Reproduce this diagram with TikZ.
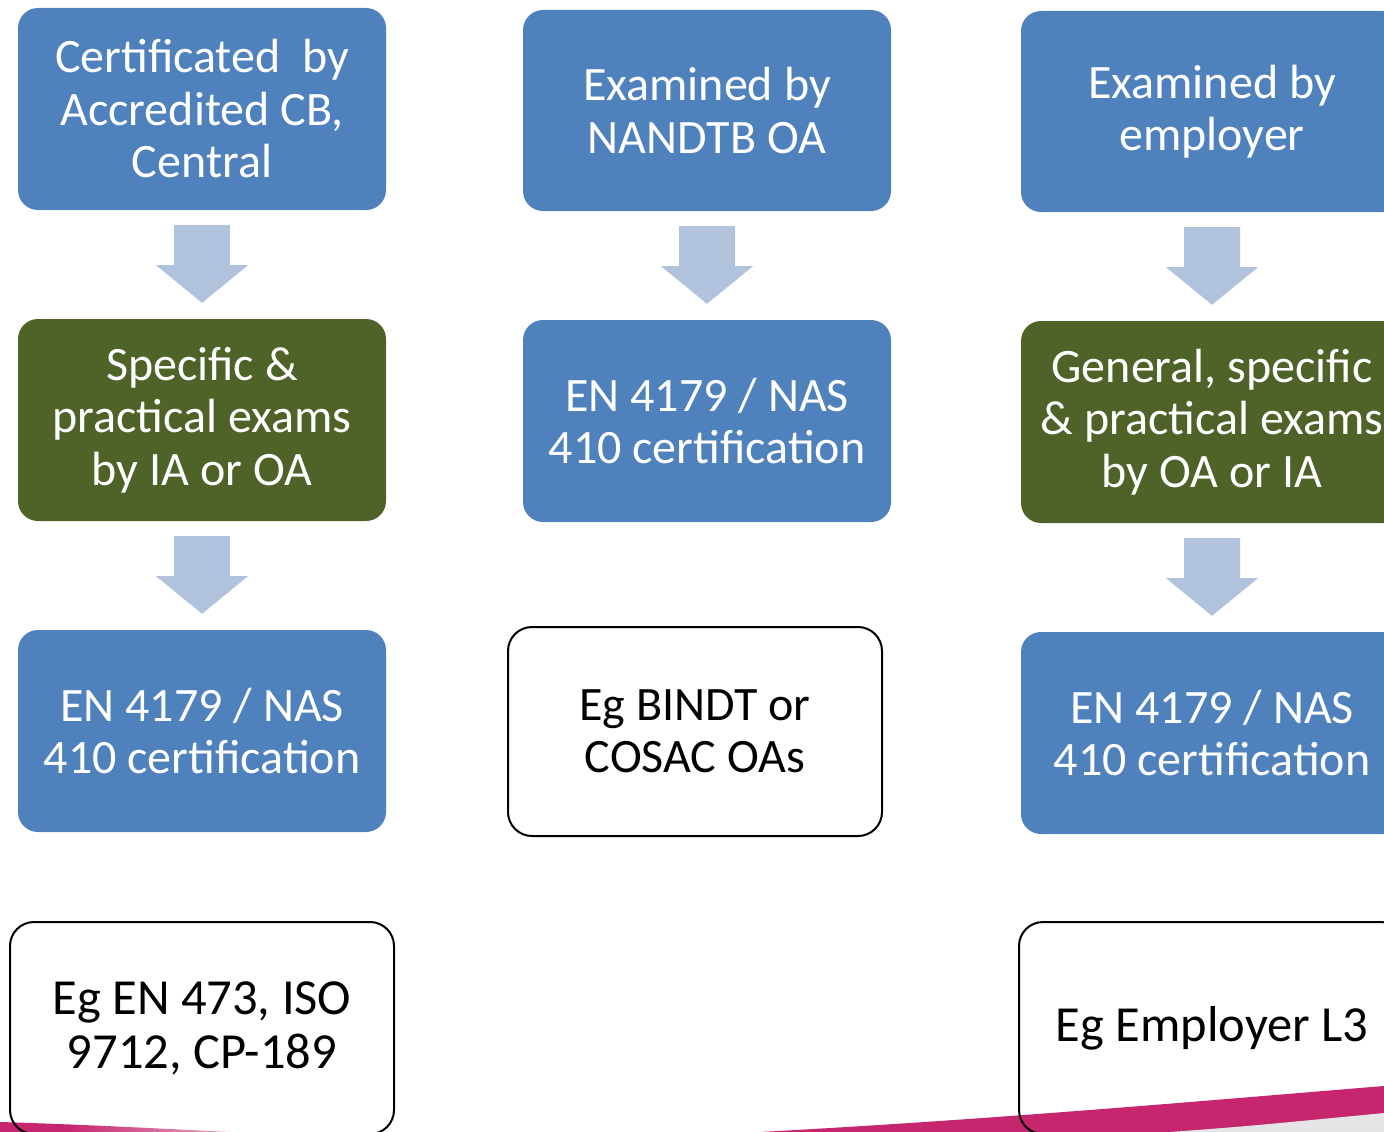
\documentclass[tikz,border=0pt]{standalone}
\usepackage{fontspec}
\setmainfont{Carlito}
\usetikzlibrary{calc}
\definecolor{boxblue}{HTML}{4F81BD}
\definecolor{boxgreen}{HTML}{4F6228}
\definecolor{arrowblue}{HTML}{B1C2DD}
\definecolor{swoosh}{HTML}{C6266E}
\definecolor{swooshgray}{HTML}{E5E5E7}
\pgfdeclarehorizontalshading{swooshfade}{100bp}{color(0bp)=(swoosh); color(40bp)=(swoosh); color(100bp)=(white)}
\begin{document}
\begin{tikzpicture}[x=1pt, y=-1pt,
    box/.style={rounded corners=20pt, align=center, inner sep=0pt,
        font=\fontsize{48}{52.5}\selectfont},
    bluebox/.style={box, fill=boxblue, text=white},
    greenbox/.style={box, fill=boxgreen, text=white},
    notebox/.style={box, draw=black, line width=2pt, rounded corners=24pt, text=black},
    bignote/.style={notebox, font=\fontsize{50.5}{54}\selectfont},
    arrowfill/.style={fill=arrowblue}]
        \clip (0, 0) rectangle (1384, 1132);
        \shade[shading=swooshfade] (0, 1122) .. controls (70, 1124) and (150, 1128) .. (230, 1132) -- (0, 1132) -- cycle;
        \fill[swoosh] (760, 1132) .. controls (1000, 1119) and (1200, 1101) .. (1384, 1086) -- (1384, 1132) -- cycle;
        \fill[swooshgray] (1170, 1132) .. controls (1250, 1126) .. (1384, 1113) -- (1384, 1132) -- cycle;
        \node[bluebox, minimum width=368pt, minimum height=202pt] (c1a) at (202, 109) {Certificated\ \ by\\Accredited CB,\\Central};
        \node[greenbox, minimum width=368pt, minimum height=202pt] (c1b) at (202, 420) {Specific \&\\practical exams\\by IA or OA};
        \node[bluebox, minimum width=368pt, minimum height=202pt] (c1c) at (202, 731) {EN 4179 / NAS\\410 certification};
        \node[bignote, minimum width=384pt, minimum height=212pt] (c1d) at (202, 1028) {Eg EN 473, ISO\\9712, CP-189};
        \node[bluebox, minimum width=368pt, minimum height=201pt] (c2a) at (707, 110.5) {Examined by\\NANDTB OA};
        \node[bluebox, minimum width=368pt, minimum height=202pt] (c2b) at (707, 421) {EN 4179 / NAS\\410 certification};
        \node[notebox, minimum width=374pt, minimum height=209pt] (c2c) at (695, 731.5) {Eg BINDT or\\COSAC OAs};
        \node[bluebox, minimum width=382pt, minimum height=201pt] (c3a) at (1212, 111.5) {Examined by\\employer};
        \node[greenbox, minimum width=382pt, minimum height=202pt] (c3b) at (1212, 422) {General, specific\\\& practical exams\\by OA or IA};
        \node[bluebox, minimum width=382pt, minimum height=202pt] (c3c) at (1212, 733) {EN 4179 / NAS\\410 certification};
        \node[bignote, minimum width=386pt, minimum height=212pt] (c3d) at (1212, 1028) {Eg Employer L3};
        \foreach \a/\b in {c1a/c1b, c1b/c1c, c2a/c2b, c3a/c3b, c3b/c3c}
            \fill[arrowfill] ($(\a.south)+(-28pt,-15pt)$) -- ($(\a.south)+(28pt,-15pt)$) -- ($(\a.south)+(28pt,-55pt)$) -- ($(\a.south)+(46pt,-55pt)$)
                -- ($(\b.north)+(0pt,16pt)$) -- ($(\a.south)+(-46pt,-55pt)$) -- ($(\a.south)+(-28pt,-55pt)$) -- cycle;
    \end{tikzpicture}
\end{document}
